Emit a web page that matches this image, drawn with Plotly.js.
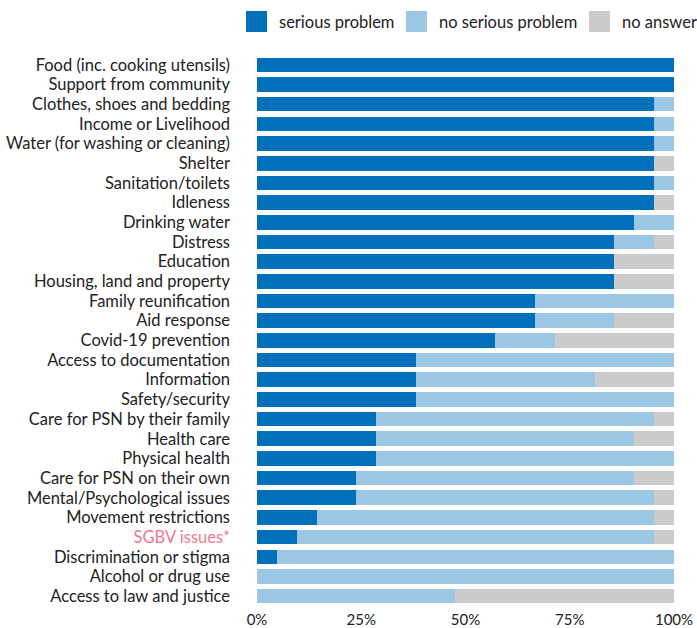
<!DOCTYPE html>
<html>
<head>
<meta charset="utf-8">
<script src="https://cdn.plot.ly/plotly-3.0.1.min.js"></script>
<style>html,body{margin:0;padding:0;background:#fff;}#chart{width:697px;height:628px;}</style>
</head>
<body>
<div id="chart"></div>
<script>
const categories = [
  "Food (inc. cooking utensils)",
  "Support from community",
  "Clothes, shoes and bedding",
  "Income or Livelihood",
  "Water (for washing or cleaning)",
  "Shelter",
  "Sanitation/toilets",
  "Idleness",
  "Drinking water",
  "Distress",
  "Education",
  "Housing, land and property",
  "Family reunification",
  "Aid response",
  "Covid-19 prevention",
  "Access to documentation",
  "Information",
  "Safety/security",
  "Care for PSN by their family",
  "Health care",
  "Physical health",
  "Care for PSN on their own",
  "Mental/Psychological issues",
  "Movement restrictions",
  "SGBV issues*",
  "Discrimination or stigma",
  "Alcohol or drug use",
  "Access to law and justice"
];
const serious   = [100,100,95.2,95.2,95.2,95.2,95.2,95.2,90.5,85.7,85.7,85.7,66.7,66.7,57.1,38.1,38.1,38.1,28.6,28.6,28.6,23.8,23.8,14.3,9.5,4.8,0,0];
const noSerious = [0,0,4.8,4.8,4.8,0,4.8,0,9.5,9.5,0,0,33.3,19.0,14.3,61.9,42.9,61.9,66.7,61.9,71.4,66.7,71.4,81.0,85.7,95.2,100,47.6];
const noAnswer  = [0,0,0,0,0,4.8,0,4.8,0,4.8,14.3,14.3,0,14.3,28.6,0,19.0,0,4.8,9.5,0,9.5,4.8,4.8,4.8,0,0,52.4];
const seriesNames = ["serious problem","no serious problem","no answer"];
const highlighted = "SGBV issues*";
const xTickVals = [0,25,50,75,100];
const xTickText = ["0%","25%","50%","75%","100%"];

const colors = ["#0070BA","#9CC7E4","#CBCBCB"];
const values = [serious, noSerious, noAnswer];
const W = 697, H = 628;
const M = {l:257, r:23, t:55, b:22};
const pw = W - M.l - M.r, ph = H - M.t - M.b;
const px = x => (x - M.l) / pw;
const py = y => (H - M.b - y) / ph;

const traces = values.map((v,i) => ({
  type: "bar", orientation: "h",
  x: v, y: categories, name: seriesNames[i],
  marker: {color: colors[i], line: {width: 0}},
  hoverinfo: "x+y+name"
}));

const tickText = categories.map(c => c === highlighted ? '<span style="color:#F0798C">' + c + '</span>' : c);

// custom legend
const legendX = [246, 406, 589];
const shapes = [], annotations = [];
legendX.forEach((x, i) => {
  shapes.push({type: "rect", xref: "paper", yref: "paper",
    x0: px(x), x1: px(x + 21), y0: py(32), y1: py(11),
    fillcolor: colors[i], line: {width: 0}});
  annotations.push({xref: "paper", yref: "paper", x: px(x + 31), y: py(21.5),
    xanchor: "left", yanchor: "middle", text: seriesNames[i], showarrow: false,
    font: {family: "Lato, sans-serif", size: 16.5, color: "#222"}});
});

const layout = {
  width: W, height: H,
  margin: M,
  barmode: "stack", bargap: 0.26,
  showlegend: false,
  paper_bgcolor: "#fff", plot_bgcolor: "#fff",
  font: {family: "Lato, sans-serif", size: 16.5, color: "#222"},
  xaxis: {range: [0, 100], tickvals: xTickVals, ticktext: xTickText,
    showgrid: false, zeroline: false, showline: false, ticks: "",
    tickfont: {size: 15}, ticklabelstandoff: 3, fixedrange: true},
  yaxis: {type: "category", categoryorder: "array", categoryarray: categories,
    autorange: "reversed", tickvals: categories, ticktext: tickText,
    showgrid: false, zeroline: false, showline: false, ticks: "",
    ticklabelstandoff: 26, fixedrange: true},
  shapes: shapes, annotations: annotations
};
Plotly.newPlot("chart", traces, layout, {displayModeBar: false, staticPlot: true});
</script>
</body>
</html>
